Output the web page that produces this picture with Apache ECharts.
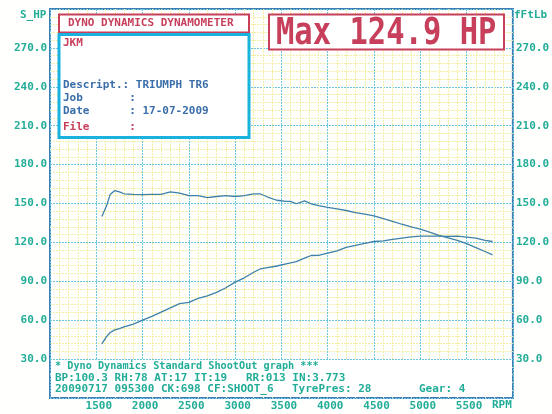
<!DOCTYPE html>
<html>
<head>
<meta charset="UTF-8">
<title>Dyno Dynamics - Triumph TR6</title>
<script src="https://cdn.jsdelivr.net/npm/echarts@6/dist/echarts.min.js"></script>
<style>
  html,body{margin:0;padding:0;width:100%;height:100%;background:#fff;overflow:hidden;}
  #chart{width:552px;height:414px;}
</style>
</head>
<body>
<div id="chart"></div>
<script>
// rpm sample points
const rpm = [1560,1610,1650,1700,1750,1800,1900,2000,2100,2200,2300,2400,2500,2600,2700,2800,2900,3000,
  3100,3200,3270,3350,3450,3550,3600,3660,3750,3820,3900,4000,4100,4200,4300,4400,4500,4600,4700,4800,
  4900,5000,5100,5200,5300,5400,5500,5600,5700,5780];
// torque (fFtLb)
const torque = [140,148,157,160,159,157.5,157,156.8,157,157,159,158,156,156,154.5,155.4,156,155.4,
  156,157.5,157.5,155,152.5,151.6,151.6,149.8,152,149.8,148.3,147,145.8,144.6,143,141.8,140.5,138.3,136.3,134,
  132,130.3,128,125.5,123.5,121.5,119,116,113,110.4];
// power (S_HP)
const power = [41.7,47.3,50.5,52.5,53.5,54.8,57,60,63,66.2,69.5,72.8,73.8,76.8,78.8,81.5,85,89.4,
  92.7,97,99.5,100.6,101.8,103.4,104.2,105.2,107.8,109.9,110,111.7,113.4,116.2,117.7,119.3,120.7,121.2,122.3,123.3,
  124.2,124.9,124.9,124.9,124.6,124.8,124.1,123.3,121.5,120.7];

const rpmTicks = [1500,2000,2500,3000,3500,4000,4500,5000,5500];
const valTicks = [30,60,90,120,150,180,210,240,270];

const infoLines = [
  ['* Dyno Dynamics Standard ShootOut graph ***'],
  ['BP:100.3 RH:78 AT:17 IT:19', 'RR:013 IN:3.773'],
  ['20090717 095300 CK:698 CF:SHOOT_6', 'TyrePres: 28', 'Gear: 4']
];

const MONO = '"DejaVu Sans Mono", "Liberation Mono", monospace';
const TEAL = '#22ad98';
const RED = '#c73f5a';
const BLUE = '#3a6eaa';
const CYAN = '#19b2df';
const CURVE = '#3f80a8';

const chart = echarts.init(document.getElementById('chart'), null, {renderer:'canvas'});

const valAxis = (pos) => ({
  type:'value', position:pos, min:0, max:300, interval:30,
  axisLine:{show:false}, axisTick:{show:false},
  axisLabel:{
    show:true, margin:3, color:TEAL, fontFamily:MONO, fontWeight:'bold', fontSize:11,
    formatter:v => valTicks.includes(v) ? v.toFixed(1) : ''
  },
  splitLine:{show:pos==='left', lineStyle:{color:'#6cc6dd', type:[2,1], width:1}},
  minorTick:{show:false, splitNumber:5},
  minorSplitLine:{show:pos==='left', lineStyle:{color:'#f4eda6', type:[2,1], width:1}}
});

chart.setOption({
  animation:false,
  backgroundColor:'#fffffd',
  grid:{left:50, right:39, top:9, bottom:16, show:true, borderColor:'#3f7db6', borderWidth:2, backgroundColor:'transparent'},
  xAxis:{
    type:'value', min:1000, max:6000, interval:500,
    axisLine:{show:false}, axisTick:{show:false},
    axisLabel:{
      margin:3, color:TEAL, fontFamily:MONO, fontWeight:'bold', fontSize:11, padding:[0,0,0,5],
      formatter:v => rpmTicks.includes(v) ? String(v) : ''
    },
    splitLine:{show:true, lineStyle:{color:'#6cc6dd', type:[2,1], width:1}},
    minorTick:{show:false, splitNumber:5},
    minorSplitLine:{show:true, lineStyle:{color:'#f4eda6', type:[2,1], width:1}}
  },
  yAxis:[valAxis('left'), valAxis('right')],
  series:[
    {
      name:'Torque', type:'line', yAxisIndex:1, showSymbol:false, smooth:false,
      data:rpm.map((r,i)=>[r,torque[i]]),
      lineStyle:{color:CURVE, width:1.3}
    },
    {
      name:'Power', type:'line', yAxisIndex:0, showSymbol:false, smooth:false,
      data:rpm.map((r,i)=>[r,power[i]]),
      lineStyle:{color:CURVE, width:1.3}
    }
  ],
  graphic:[
    // axis names
    {type:'text', left:20, top:10, z:100, style:{text:'S_HP', fill:TEAL, font:'bold 11px '+MONO}},
    {type:'text', left:514, top:10, z:100, style:{text:'fFtLb', fill:TEAL, font:'bold 11px '+MONO}},
    {type:'text', left:492, top:400, z:100, style:{text:'RPM', fill:TEAL, font:'bold 11px '+MONO}},
    // title box
    {type:'rect', z:100, shape:{x:59, y:14.5, width:190, height:18}, style:{fill:'#fff', stroke:RED, lineWidth:2}},
    {type:'text', z:101, x:68, y:23.5, style:{text:'DYNO DYNAMICS DYNAMOMETER', fill:RED, font:'bold 11px '+MONO, verticalAlign:'middle'}},
    // info box
    {type:'rect', z:100, shape:{x:59, y:34.5, width:190, height:103}, style:{fill:'#fff', stroke:CYAN, lineWidth:3}},
    {type:'text', z:101, x:63, y:43, style:{text:'JKM', fill:RED, font:'bold 11px '+MONO, verticalAlign:'middle'}},
    {type:'text', z:101, x:63, y:85, style:{text:'Descript.: TRIUMPH TR6', fill:BLUE, font:'bold 11px '+MONO, verticalAlign:'middle'}},
    {type:'text', z:101, x:63, y:98.5, style:{text:'Job       :', fill:BLUE, font:'bold 11px '+MONO, verticalAlign:'middle'}},
    {type:'text', z:101, x:63, y:111.5, style:{text:'Date      : 17-07-2009', fill:BLUE, font:'bold 11px '+MONO, verticalAlign:'middle'}},
    {type:'text', z:101, x:63, y:127.5, style:{text:'File      :', fill:RED, font:'bold 11px '+MONO, verticalAlign:'middle'}},
    // max box
    {type:'rect', z:100, shape:{x:269, y:14.5, width:235, height:35}, style:{fill:'#fff', stroke:RED, lineWidth:2}},
    {type:'text', z:101, x:276, y:15, scaleY:1.22, style:{text:'Max 124.9 HP', fill:RED, font:'bold 30.5px '+MONO, verticalAlign:'top'}},
    // bottom info panel
    {type:'rect', z:100, shape:{x:51, y:360, width:461, height:37}, style:{fill:'#fff'}},
    {type:'text', z:101, x:55, y:366.5, style:{text:infoLines[0][0], fill:TEAL, font:'bold 10.2px '+MONO, verticalAlign:'middle'}},
    {type:'text', z:101, x:55, y:378.5, style:{text:infoLines[1][0], fill:TEAL, font:'bold 11px '+MONO, verticalAlign:'middle'}},
    {type:'text', z:101, x:246, y:378.5, style:{text:infoLines[1][1], fill:TEAL, font:'bold 11px '+MONO, verticalAlign:'middle'}},
    {type:'text', z:101, x:55, y:389.5, style:{text:infoLines[2][0], fill:TEAL, font:'bold 11px '+MONO, verticalAlign:'middle'}},
    {type:'text', z:101, x:292, y:389.5, style:{text:infoLines[2][1], fill:TEAL, font:'bold 11px '+MONO, verticalAlign:'middle'}},
    {type:'text', z:101, x:419, y:389.5, style:{text:infoLines[2][2], fill:TEAL, font:'bold 11px '+MONO, verticalAlign:'middle'}}
  ]
});
</script>
</body>
</html>
